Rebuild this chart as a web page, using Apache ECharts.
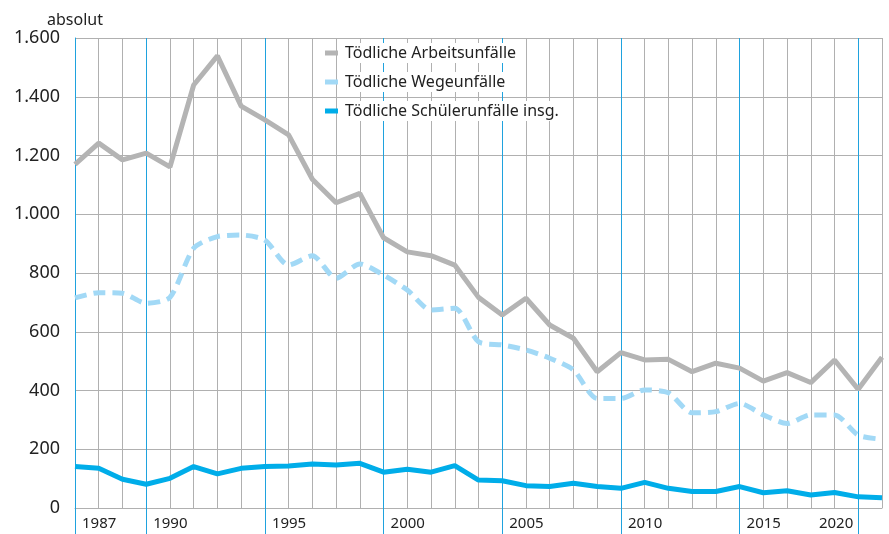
<!DOCTYPE html>
<html>
<head>
<meta charset="utf-8">
<style>
  html, body { margin: 0; padding: 0; background: #fff; }
  #main { width: 889px; height: 534px; }
</style>
<script src="https://cdn.jsdelivr.net/npm/echarts@6/dist/echarts.min.js"></script>
</head>
<body>
<div id="main"></div>
<script>
// Jahre 1987 - 2021
var years = ['1987','1988','1989','1990','1991','1992','1993','1994','1995','1996',
  '1997','1998','1999','2000','2001','2002','2003','2004','2005','2006',
  '2007','2008','2009','2010','2011','2012','2013','2014','2015','2016',
  '2017','2018','2019','2020','2021'];
// Jahre mit blauer Linie und Beschriftung
var labelYears = ['1987','1990','1995','2000','2005','2010','2015','2020'];

var arbeit = [1170,1242,1185,1208,1161,1440,1539,1368,1321,1270,
  1119,1039,1071,920,872,859,827,717,657,714,
  623,578,464,529,504,506,464,493,476,432,
  461,427,504,404,513];
var wege = [715,733,731,697,717,884,924,929,912,827,
  859,782,831,793,742,674,680,566,555,538,
  510,470,373,373,402,392,324,328,356,317,
  288,317,317,248,234];
var schueler = [141,135,98,81,101,141,116,135,141,143,
  150,146,152,122,132,122,144,95,93,76,
  73,84,73,67,87,67,56,56,73,52,
  59,44,53,38,35];

var yTicks = [0,200,400,600,800,1000,1200,1400,1600];

var BLUE = '#1fa2de';
var GRID = '#b0b0b0';
var FONT = 'Noto Sans';

function isLabelYear(i){
	return labelYears.indexOf(years[i]) >= 0;
}
var splitColors = years.map(function(y, i){
	return isLabelYear(i) ? BLUE : GRID;
});

var myChart = echarts.init(document.getElementById('main'));
var option = {
	backgroundColor: '#fff',
	animation: false,
	textStyle: { fontFamily: FONT },
	grid: { left: 75, right: 7, top: 38, bottom: 26, containLabel: false },
	legend: {
		orient: 'vertical',
		left: 325,
		top: 43,
		padding: 0,
		itemGap: 9,
		itemWidth: 13,
		itemHeight: 5,
		icon: 'rect',
		itemStyle: { borderWidth: 0 },
		lineStyle: { type: 'solid' },
		textStyle: {
			fontFamily: FONT, fontSize: 16, color: '#222', lineHeight: 20,
			backgroundColor: '#fff', padding: [0, 4, 0, 2]
		},
		data: ['Tödliche Arbeitsunfälle', 'Tödliche Wegeunfälle', 'Tödliche Schülerunfälle insg.']
	},
	xAxis: [
		{
			type: 'category',
			data: years,
			boundaryGap: false,
			axisLine: { show: true, lineStyle: { color: GRID } },
			axisTick: {
				show: true,
				interval: function(i){ return isLabelYear(i); },
				length: 26,
				lineStyle: { color: BLUE }
			},
			axisLabel: {
				interval: function(i, v){ return isLabelYear(i) && v !== '2020'; },
				align: 'left',
				padding: [0, 0, 0, 7],
				margin: 8,
				fontFamily: FONT, fontSize: 15, color: '#222'
			},
			splitLine: { show: true, interval: 0, lineStyle: { color: splitColors, width: 1 } }
		},
		{
			type: 'category',
			data: years,
			boundaryGap: false,
			position: 'bottom',
			axisLine: { show: false },
			axisTick: { show: false },
			splitLine: { show: false },
			axisLabel: {
				interval: function(i, v){ return v === '2020'; },
				align: 'right',
				padding: [0, 5, 0, 0],
				margin: 8,
				fontFamily: FONT, fontSize: 15, color: '#222'
			}
		}
	],
	yAxis: {
		type: 'value',
		min: yTicks[0],
		max: yTicks[yTicks.length - 1],
		interval: 200,
		name: 'absolut',
		nameLocation: 'end',
		nameGap: 10,
		nameTextStyle: { fontFamily: FONT, fontSize: 16, color: '#222' },
		axisLine: { show: true, lineStyle: { color: BLUE } },
		axisTick: { show: false },
		axisLabel: {
			margin: 15,
			fontFamily: FONT, fontSize: 18, color: '#222',
			formatter: function(v){ return String(v).replace(/\B(?=(\d{3})+(?!\d))/g, '.'); }
		},
		splitLine: { show: true, lineStyle: { color: GRID } }
	},
	series: [
		{
			name: 'Tödliche Arbeitsunfälle',
			type: 'line',
			data: arbeit,
			symbol: 'none',
			itemStyle: { color: '#b4b4b4' },
			lineStyle: { color: '#b4b4b4', width: 5 },
			z: 3
		},
		{
			name: 'Tödliche Wegeunfälle',
			type: 'line',
			data: wege,
			symbol: 'none',
			smooth: 0.25,
			itemStyle: { color: '#a2d9f6' },
			lineStyle: { color: '#a2d9f6', width: 5, type: [12, 7] },
			z: 3
		},
		{
			name: 'Tödliche Schülerunfälle insg.',
			type: 'line',
			data: schueler,
			symbol: 'none',
			itemStyle: { color: '#00ade9' },
			lineStyle: { color: '#00ade9', width: 5 },
			z: 3
		}
	]
};
myChart.setOption(option);
</script>
</body>
</html>
